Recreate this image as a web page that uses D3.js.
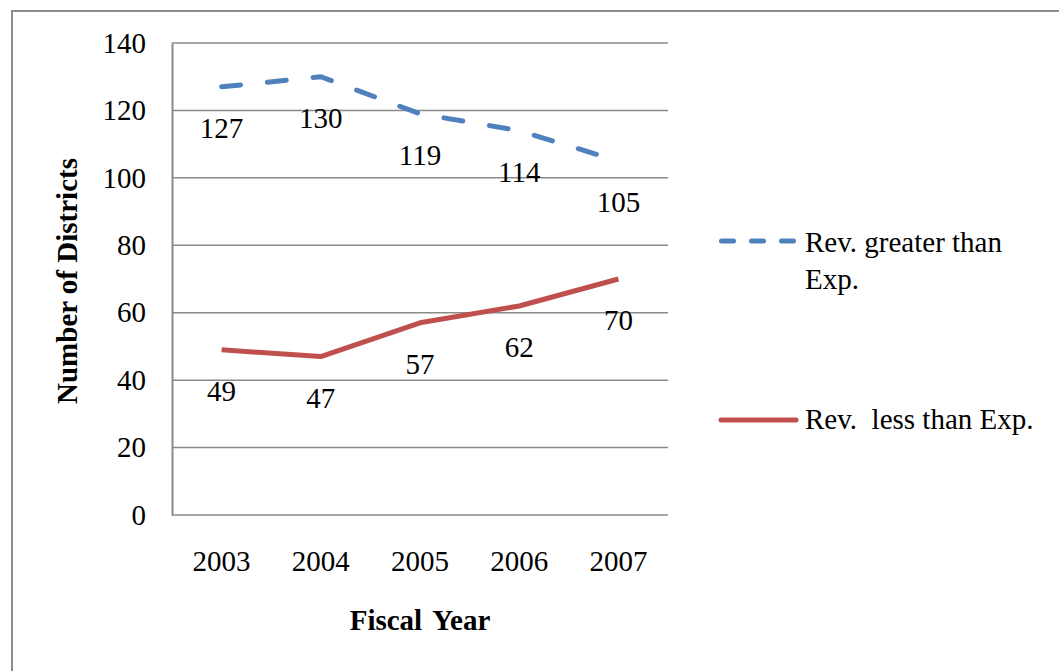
<!DOCTYPE html>
<html>
<head>
<meta charset="utf-8">
<script src="https://cdn.jsdelivr.net/npm/d3@7"></script>
<style>
  body { margin: 0; background: #fff; }
  text { font-family: "Liberation Serif", "Times New Roman", serif; fill: #000; }
</style>
</head>
<body>
<div id="chart"></div>
<script>
var years = ["2003", "2004", "2005", "2006", "2007"];
var greater = [127, 130, 119, 114, 105];
var less = [49, 47, 57, 62, 70];
var yTicks = [0, 20, 40, 60, 80, 100, 120, 140];
var legendLines = [["Rev. greater than", "Exp."], ["Rev.  less than Exp."]];

var width = 1059, height = 671;
var margin = {top: 43, left: 172, right: 391, bottom: 156};
var fontSize = "29px";

var svg = d3.select("#chart").append("svg")
    .attr("width", width)
    .attr("height", height);

// outer chart border
svg.append("rect")
    .attr("x", 12).attr("y", 11)
    .attr("width", 1060).attr("height", 680)
    .attr("fill", "none")
    .attr("stroke", "#8c8c8c")
    .attr("stroke-width", 2);

var x = d3.scaleBand()
    .domain(years)
    .range([margin.left, width - margin.right]);

var y = d3.scaleLinear()
    .domain([0, 140])
    .range([height - margin.bottom, margin.top]);

// gridlines
svg.append("g").selectAll("line")
    .data(yTicks)
  .enter().append("line")
    .attr("x1", margin.left).attr("x2", width - margin.right)
    .attr("y1", function(d) { return y(d); })
    .attr("y2", function(d) { return y(d); })
    .attr("stroke", "#8a8a8a")
    .attr("stroke-width", 1.5);

// y axis
var yAxis = svg.append("g")
    .attr("transform", "translate(" + margin.left + ",0)")
    .call(d3.axisLeft(y).tickValues(yTicks).tickSize(0).tickPadding(26));
yAxis.select(".domain").attr("stroke", "#8a8a8a").attr("stroke-width", 2);
yAxis.selectAll("text")
    .style("font-size", fontSize)
    .style("font-family", "Liberation Serif");

// x axis labels
var xAxis = svg.append("g")
    .attr("transform", "translate(0," + y(0) + ")")
    .call(d3.axisBottom(x).tickSize(0).tickPadding(35));
xAxis.select(".domain").remove();
xAxis.selectAll("text")
    .style("font-size", fontSize)
    .style("font-family", "Liberation Serif");

// axis titles
svg.append("text")
    .attr("x", x.range()[0] + (x.range()[1] - x.range()[0]) / 2)
    .attr("y", 630)
    .attr("text-anchor", "middle")
    .style("font-size", fontSize)
    .style("word-spacing", "4px")
    .attr("font-weight", "bold")
    .text("Fiscal Year");

svg.append("text")
    .attr("transform", "translate(77,281) rotate(-90)")
    .attr("text-anchor", "middle")
    .style("font-size", fontSize)
    .attr("font-weight", "bold")
    .text("Number of Districts");

var line = d3.line()
    .x(function(d, i) { return x(years[i]) + x.bandwidth() / 2; })
    .y(function(d) { return y(d); });

svg.append("path")
    .datum(greater)
    .attr("d", line)
    .attr("fill", "none")
    .attr("stroke", "#4f81bd")
    .attr("stroke-width", 5)
    .attr("stroke-linecap", "round")
    .attr("stroke-dasharray", "19,27");

svg.append("path")
    .datum(less)
    .attr("d", line)
    .attr("fill", "none")
    .attr("stroke", "#c0504d")
    .attr("stroke-width", 5)
    .attr("stroke-linejoin", "round");

// data labels
[greater, less].forEach(function(series) {
  svg.append("g").selectAll("text")
      .data(series)
    .enter().append("text")
      .attr("x", function(d, i) { return x(years[i]) + x.bandwidth() / 2; })
      .attr("y", function(d) { return y(d) + 51; })
      .attr("text-anchor", "middle")
      .style("font-size", fontSize)
      .text(function(d) { return d; });
});

// legend
var legend = svg.append("g");
legend.append("line")
    .attr("x1", 721.5).attr("x2", 796)
    .attr("y1", 241).attr("y2", 241)
    .attr("stroke", "#4f81bd")
    .attr("stroke-width", 5)
    .attr("stroke-linecap", "round")
    .attr("stroke-dasharray", "12,18");
legend.append("text")
    .attr("x", 805).attr("y", 252)
    .style("font-size", fontSize)
    .text(legendLines[0][0]);
legend.append("text")
    .attr("x", 805).attr("y", 289)
    .style("font-size", fontSize)
    .text(legendLines[0][1]);
legend.append("line")
    .attr("x1", 721).attr("x2", 796)
    .attr("y1", 420).attr("y2", 420)
    .attr("stroke", "#c0504d")
    .attr("stroke-width", 5)
    .attr("stroke-linecap", "round");
legend.append("text")
    .attr("x", 805).attr("y", 429)
    .style("font-size", fontSize)
    .attr("xml:space", "preserve")
    .text(legendLines[1][0]);
</script>
</body>
</html>
